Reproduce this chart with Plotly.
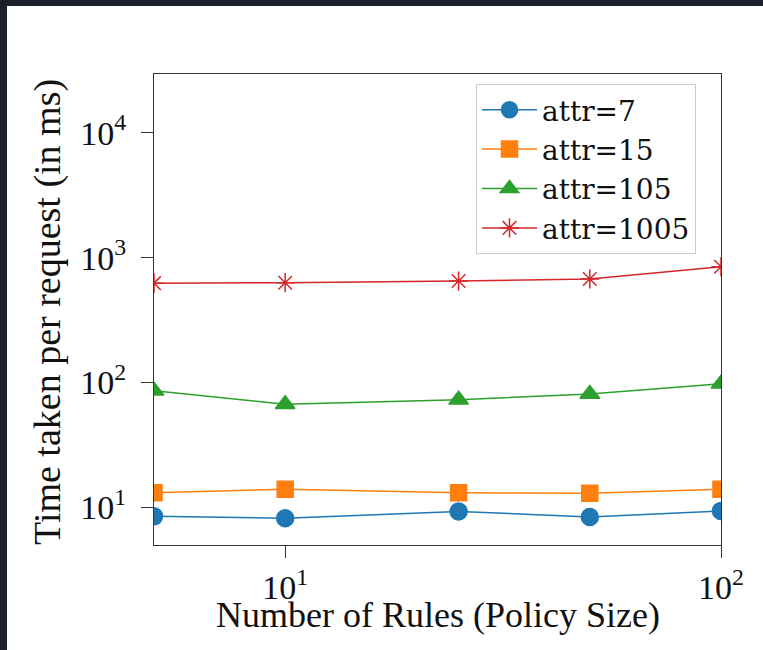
import plotly.graph_objects as go

rules = [5, 10, 25, 50, 100]
attr7 = [8.5, 8.2, 9.3, 8.4, 9.4]
attr15 = [13.1, 14.0, 13.1, 13.0, 14.0]
attr105 = [86, 67, 73, 81, 98]
attr1005 = [625, 630, 650, 675, 845]

series = [
    ("attr=7", attr7, "#1f77b4", "circle", 17),
    ("attr=15", attr15, "#ff7f0e", "square", 16),
    ("attr=105", attr105, "#2ca02c", "triangle-up", 17),
    ("attr=1005", attr1005, "#d62728", "asterisk-open", 16),
]

xtick_vals = [10, 100]
xtick_text = ["10<sup>1</sup>", "10<sup>2</sup>"]
ytick_vals = [10, 100, 1000, 10000]
ytick_text = ["10<sup>1</sup>", "10<sup>2</sup>", "10<sup>3</sup>", "10<sup>4</sup>"]

x_title = "Number of Rules (Policy Size)"
y_title = "Time taken per request (in ms)"

FONT = "Liberation Serif"
LEGFONT = "DejaVu Serif"
INK = "#111111"

fig = go.Figure()
for name, vals, color, sym, size in series:
    fig.add_trace(go.Scatter(
        x=rules, y=vals, name=name, mode="lines+markers",
        line=dict(color=color, width=1.5),
        marker=dict(symbol=sym, size=size, color=color,
                    line=dict(color=color, width=1.5)),
    ))

W, H = 763, 650
L, R, T, B = 154, 721, 74, 545
pw, ph = R - L, B - T


def sx(p):  # screen x pixel -> paper x
    return (p - L) / pw


def sy(p):  # screen y pixel -> paper y
    return (B - p) / ph


dark = "#1b202b"
fig.add_shape(type="rect", xref="paper", yref="paper",
              x0=sx(-2), x1=sx(W + 2), y0=sy(6), y1=sy(-2),
              fillcolor=dark, line_width=0, layer="above")
fig.add_shape(type="rect", xref="paper", yref="paper",
              x0=sx(-2), x1=sx(7), y0=sy(H + 2), y1=sy(-2),
              fillcolor=dark, line_width=0, layer="above")

fig.add_annotation(text=x_title, xref="paper", yref="paper",
                   x=sx(437.5), y=sy(615), xanchor="center", yanchor="middle",
                   showarrow=False, font=dict(family=FONT, size=36, color=INK))
fig.add_annotation(text=y_title, xref="paper", yref="paper",
                   x=sx(47), y=sy(312), xanchor="center", yanchor="middle",
                   textangle=-90, showarrow=False,
                   font=dict(family=FONT, size=38, color=INK))

axis_common = dict(
    showgrid=False, zeroline=False, showline=True, mirror=True,
    linecolor="#333333", linewidth=1.3,
    ticks="outside", ticklen=12, tickwidth=1, tickcolor="#333333",
    tickfont=dict(family=FONT, size=34, color=INK),
    automargin=False,
)

fig.update_layout(
    width=W, height=H,
    margin=dict(l=L, r=W - R, t=T, b=H - B, autoexpand=False),
    paper_bgcolor="white", plot_bgcolor="white",
    font=dict(family=FONT, color=INK),
    showlegend=True,
    hovermode=False,
    legend=dict(
        x=sx(476), y=sy(84), xanchor="left", yanchor="top",
        bgcolor="white", bordercolor="#cccccc", borderwidth=1,
        font=dict(family=LEGFONT, size=28, color=INK),
        itemwidth=55,
    ),
    xaxis=dict(
        type="log", range=[0.699, 2.0],
        tickvals=xtick_vals, ticktext=xtick_text,
        **axis_common,
    ),
    yaxis=dict(
        type="log", range=[0.70, 4.47],
        tickvals=ytick_vals, ticktext=ytick_text,
        ticklabelstandoff=8,
        **axis_common,
    ),
)

fig.write_html("out.html",
               config={"displayModeBar": False},
               post_script="document.body.style.margin='0';"
                           "document.body.style.overflow='hidden';")
